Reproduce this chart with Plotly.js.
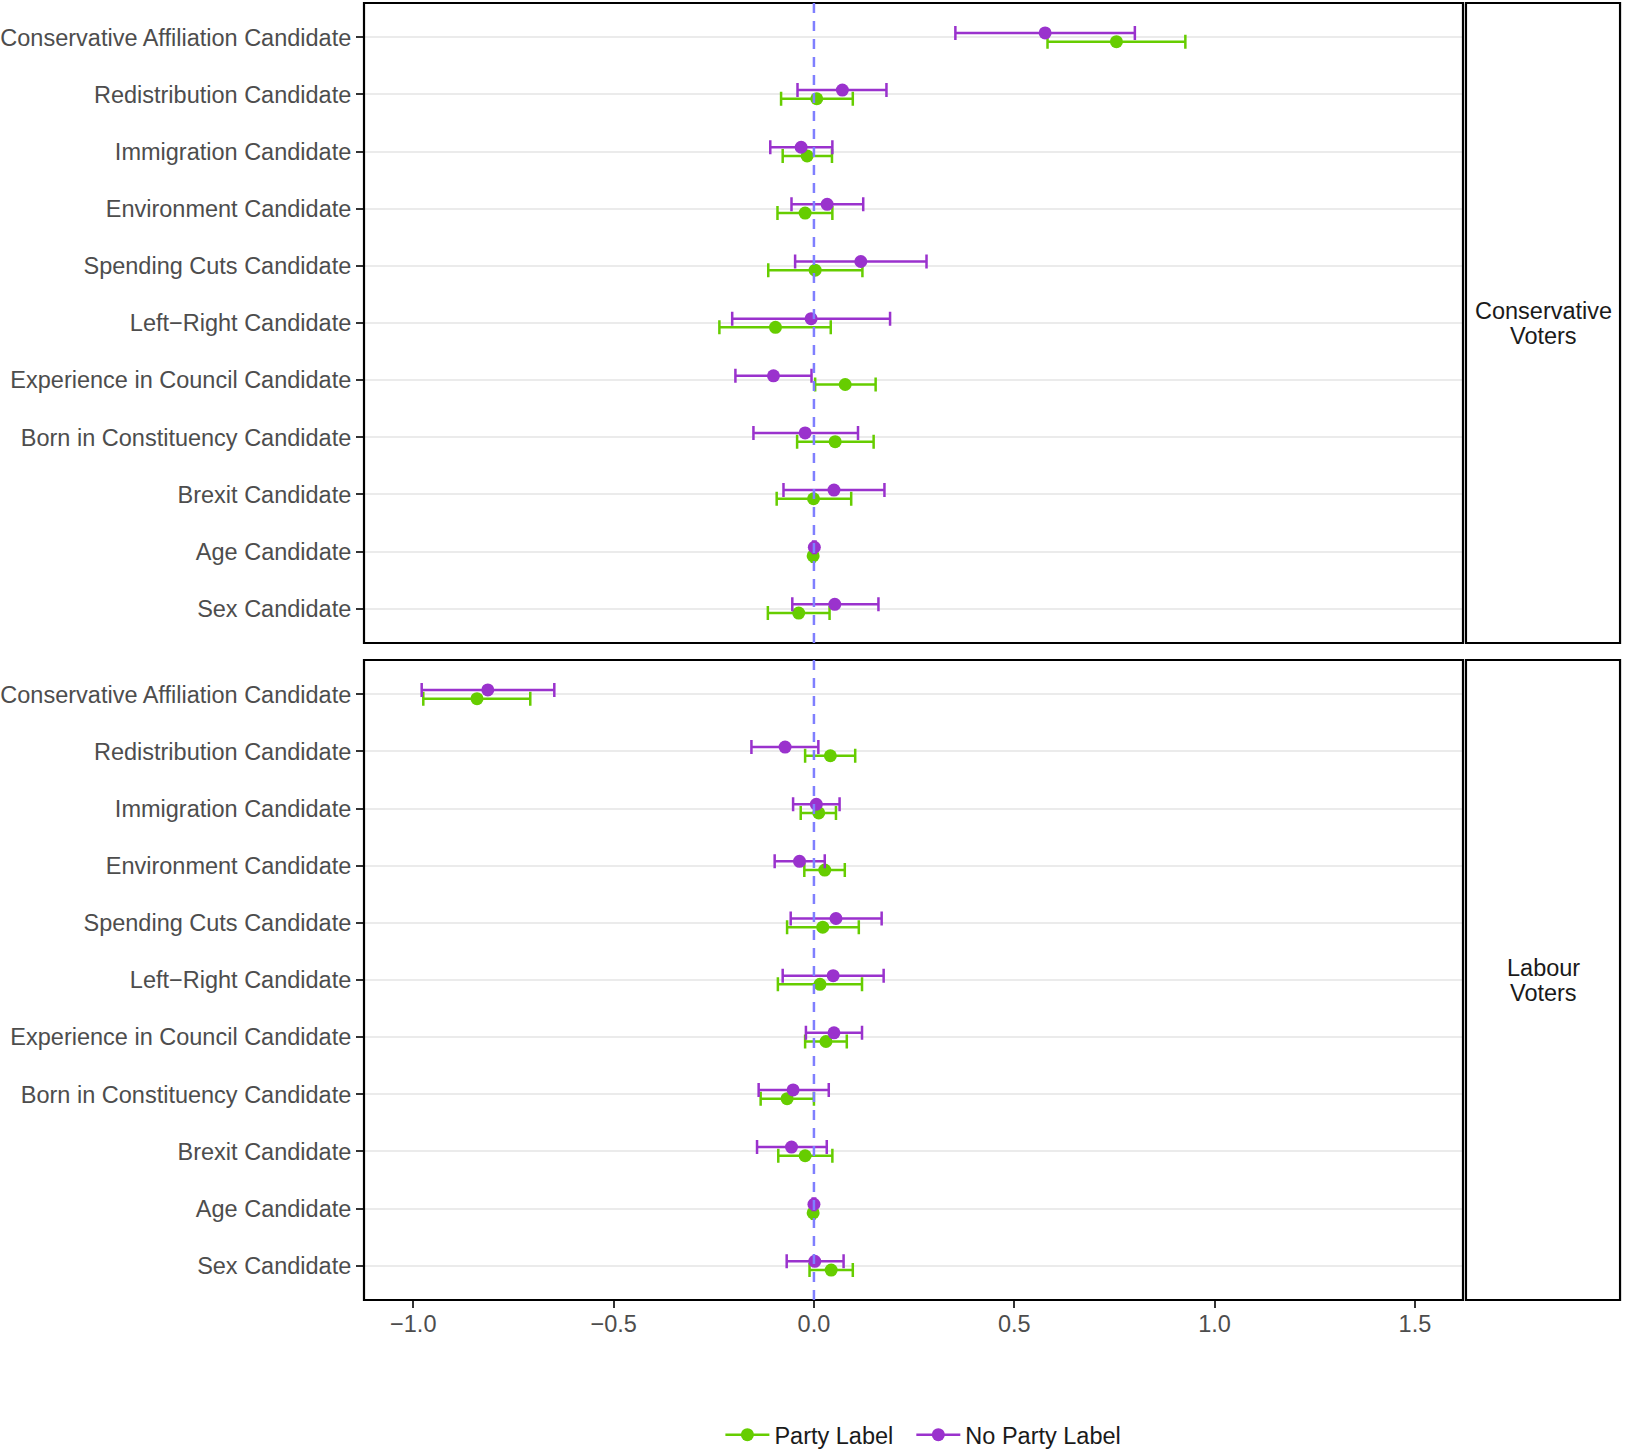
<!DOCTYPE html>
<html>
<head>
<meta charset="utf-8">
<script src="https://cdn.plot.ly/plotly-3.0.1.min.js"></script>
<style>html,body{margin:0;padding:0;background:#fff;}#chart{width:1625px;height:1449px;}</style>
</head>
<body>
<div id="chart"></div>
<script>
// Categories (top to bottom)
const categories = [
  "Conservative Affiliation Candidate",
  "Redistribution Candidate",
  "Immigration Candidate",
  "Environment Candidate",
  "Spending Cuts Candidate",
  "Left\u2212Right Candidate",
  "Experience in Council Candidate",
  "Born in Constituency Candidate",
  "Brexit Candidate",
  "Age Candidate",
  "Sex Candidate"
];
const panels = [["Conservative", "Voters"], ["Labour", "Voters"]];
const seriesNames = ["Party Label", "No Party Label"];

// Conservative voters — Party Label
const conPartyEst = [0.755, 0.007, -0.017, -0.022, 0.003, -0.096, 0.078, 0.053, -0.001, -0.002, -0.038];
const conPartyLo  = [0.583, -0.082, -0.078, -0.091, -0.114, -0.236, 0.003, -0.042, -0.093, -0.005, -0.115];
const conPartyHi  = [0.927, 0.097, 0.045, 0.046, 0.121, 0.042, 0.154, 0.149, 0.093, 0.001, 0.039];
// Conservative voters — No Party Label
const conNoEst = [0.577, 0.071, -0.032, 0.033, 0.117, -0.007, -0.101, -0.022, 0.050, 0.001, 0.052];
const conNoLo  = [0.353, -0.041, -0.109, -0.056, -0.047, -0.204, -0.196, -0.151, -0.076, -0.002, -0.054];
const conNoHi  = [0.801, 0.181, 0.046, 0.123, 0.281, 0.190, -0.006, 0.110, 0.176, 0.004, 0.161];
// Labour voters — Party Label
const labPartyEst = [-0.841, 0.041, 0.012, 0.027, 0.022, 0.015, 0.030, -0.067, -0.022, -0.002, 0.043];
const labPartyLo  = [-0.975, -0.022, -0.033, -0.024, -0.067, -0.090, -0.022, -0.133, -0.089, -0.005, -0.011];
const labPartyHi  = [-0.708, 0.103, 0.055, 0.077, 0.112, 0.120, 0.082, 0.000, 0.046, 0.001, 0.097];
// Labour voters — No Party Label
const labNoEst = [-0.814, -0.072, 0.006, -0.036, 0.055, 0.048, 0.050, -0.052, -0.056, 0.000, 0.002];
const labNoLo  = [-0.979, -0.156, -0.052, -0.098, -0.058, -0.078, -0.020, -0.138, -0.142, -0.003, -0.068];
const labNoHi  = [-0.648, 0.011, 0.064, 0.027, 0.169, 0.174, 0.120, 0.037, 0.032, 0.003, 0.074];

const xTicks = [-1.0, -0.5, 0.0, 0.5, 1.0, 1.5];

const GREEN = "#66CD00";
const PURPLE = "#9A32CD";
const FONT = "Liberation Sans, Arial, sans-serif";
const FS = 23.5;
const dodge = 0.076;

const pos = categories.map((c, i) => i + 1);

function trace(est, lo, hi, color, yaxis, shift) {
  return {
    type: "scatter", mode: "markers",
    x: est, y: pos.map(p => p + shift),
    xaxis: yaxis === "y" ? "x2" : "x", yaxis: yaxis,
    marker: {color: color, size: 13},
    error_x: {type: "data", symmetric: false,
      array: hi.map((h, i) => h - est[i]),
      arrayminus: lo.map((l, i) => est[i] - l),
      color: color, thickness: 2.5, width: 7},
    showlegend: false, hoverinfo: "x+y"
  };
}

const data = [
  trace(conPartyEst, conPartyLo, conPartyHi, GREEN, "y", dodge),
  trace(conNoEst, conNoLo, conNoHi, PURPLE, "y", -dodge),
  trace(labPartyEst, labPartyLo, labPartyHi, GREEN, "y2", dodge),
  trace(labNoEst, labNoLo, labNoHi, PURPLE, "y2", -dodge),
  {type: "scatter", mode: "lines+markers", x: [null], y: [null], name: seriesNames[0] + "  ",
   line: {color: GREEN, width: 2.5}, marker: {color: GREEN, size: 13}, showlegend: true},
  {type: "scatter", mode: "lines+markers", x: [null], y: [null], name: seriesNames[1],
   line: {color: PURPLE, width: 2.5}, marker: {color: PURPLE, size: 13}, showlegend: true}
];

const xRange = [-1.123, 1.620];
const yAxisCommon = {
  range: [11.6, 0.4], tickmode: "array", tickvals: pos, ticktext: categories,
  showgrid: true, gridcolor: "#EBEBEB", gridwidth: 2, zeroline: false,
  ticks: "outside", ticklen: 7, tickwidth: 2, tickcolor: "#333333",
  tickfont: {family: FONT, size: FS, color: "#4D4D4D"}, showline: false
};
const topDom = [657/1297, 1];
const botDom = [0, 640/1297];

const shapes = [];
// panel borders and strip boxes
[[topDom[0], topDom[1]], [botDom[0], botDom[1]]].forEach(d => {
  shapes.push({type: "rect", xref: "paper", yref: "paper", x0: 0, x1: 1, y0: d[0], y1: d[1],
    line: {color: "#000000", width: 2.2}, fillcolor: "rgba(0,0,0,0)", layer: "above"});
  shapes.push({type: "rect", xref: "paper", yref: "paper", x0: 1.0027, x1: 1.1429, y0: d[0], y1: d[1],
    line: {color: "#000000", width: 2.2}, fillcolor: "#FFFFFF", layer: "above"});
});
// zero reference lines
["y", "y2"].forEach((ya, i) => {
  shapes.push({type: "line", xref: i === 0 ? "x2" : "x", yref: ya + " domain", x0: 0, x1: 0, y0: 0, y1: 1,
    line: {color: "#7F7FFF", width: 2.5, dash: "10px,8px"}, layer: "above"});
});

const annotations = [];
const lineOff = 12.5 / 1297;
panels.forEach((p, i) => {
  const yc = i === 0 ? (topDom[0] + topDom[1]) / 2 : (botDom[0] + botDom[1]) / 2;
  p.forEach((txt, j) => {
    annotations.push({
      xref: "paper", yref: "paper", x: (1.0027 + 1.1429) / 2,
      y: yc + (j === 0 ? lineOff : -lineOff),
      text: txt, showarrow: false, xanchor: "center", yanchor: "middle",
      font: {family: FONT, size: FS, color: "#1A1A1A"}
    });
  });
});

const layout = {
  width: 1625, height: 1449,
  margin: {l: 364, r: 162, t: 3, b: 149, pad: 0, autoexpand: false},
  paper_bgcolor: "#FFFFFF", plot_bgcolor: "#FFFFFF",
  font: {family: FONT, size: FS, color: "#4D4D4D"},
  xaxis: {domain: [0, 1], anchor: "y2", range: xRange, tickvals: xTicks,
    ticktext: xTicks.map(v => (v < 0 ? "\u2212" : "") + Math.abs(v).toFixed(1)),
    tickmode: "array", showgrid: false, zeroline: false, ticks: "outside", ticklen: 7,
    ticklabelstandoff: -4,
    tickwidth: 2, tickcolor: "#333333", tickfont: {family: FONT, size: FS, color: "#4D4D4D"}},
  xaxis2: {domain: [0, 1], anchor: "y", matches: "x", range: xRange, showticklabels: false,
    showgrid: false, zeroline: false, ticks: ""},
  yaxis: Object.assign({}, yAxisCommon, {domain: topDom, anchor: "x2"}),
  yaxis2: Object.assign({}, yAxisCommon, {domain: botDom, anchor: "x"}),
  shapes: shapes,
  annotations: annotations,
  showlegend: true,
  legend: {orientation: "h", x: 0.509, xanchor: "center", y: -0.104, yanchor: "middle",
    font: {family: FONT, size: FS, color: "#1A1A1A"}, itemwidth: 44, bgcolor: "rgba(0,0,0,0)"}
};

Plotly.newPlot("chart", data, layout, {displayModeBar: false, staticPlot: true});
</script>
</body>
</html>
